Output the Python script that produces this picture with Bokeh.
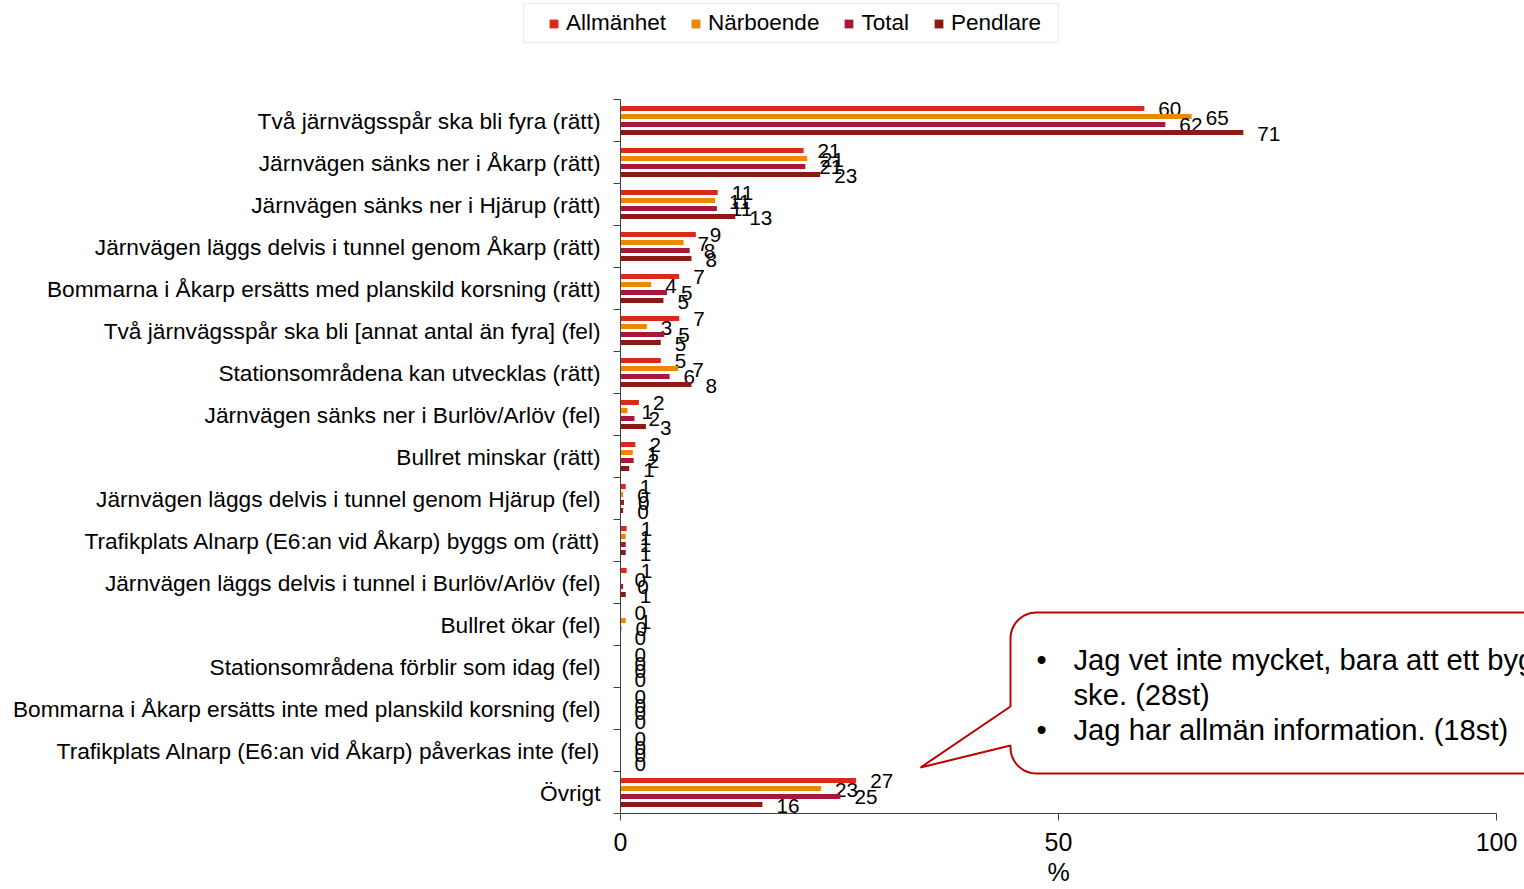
import numpy as np
from bokeh.plotting import figure
from bokeh.layouts import column
from bokeh.models import (FixedTicker, Legend, LegendItem, Range1d, BoxAnnotation, Title)
from bokeh.core.properties import value
from bokeh.embed import file_html
from bokeh.resources import INLINE

# ---------------- data ----------------
categories = [
    "Två järnvägsspår ska bli fyra (rätt)",
    "Järnvägen sänks ner i Åkarp (rätt)",
    "Järnvägen sänks ner i Hjärup (rätt)",
    "Järnvägen läggs delvis i tunnel genom Åkarp (rätt)",
    "Bommarna i Åkarp ersätts med planskild korsning (rätt)",
    "Två järnvägsspår ska bli [annat antal än fyra] (fel)",
    "Stationsområdena kan utvecklas (rätt)",
    "Järnvägen sänks ner i Burlöv/Arlöv (fel)",
    "Bullret minskar (rätt)",
    "Järnvägen läggs delvis i tunnel genom Hjärup (fel)",
    "Trafikplats Alnarp (E6:an vid Åkarp) byggs om (rätt)",
    "Järnvägen läggs delvis i tunnel i Burlöv/Arlöv (fel)",
    "Bullret ökar (fel)",
    "Stationsområdena förblir som idag (fel)",
    "Bommarna i Åkarp ersätts inte med planskild korsning (fel)",
    "Trafikplats Alnarp (E6:an vid Åkarp) påverkas inte (fel)",
    "Övrigt",
]
series_names = ["Allmänhet", "Närboende", "Total", "Pendlare"]
allmanhet = [59.8, 20.9, 11.1, 8.6, 6.7, 6.7, 4.6, 2.1, 1.7, 0.6, 0.7, 0.7, 0.0, 0.0, 0.0, 0.0, 26.9]
narboende = [65.2, 21.3, 10.8, 7.2, 3.5, 3.0, 6.6, 0.8, 1.4, 0.3, 0.6, 0.0, 0.6, 0.0, 0.0, 0.0, 22.9]
total     = [62.2, 21.1, 11.0, 7.9, 5.3, 5.0, 5.6, 1.6, 1.5, 0.4, 0.6, 0.3, 0.1, 0.0, 0.0, 0.0, 25.1]
pendlare  = [71.1, 22.8, 13.1, 8.1, 4.9, 4.6, 8.1, 2.9, 1.0, 0.3, 0.6, 0.6, 0.0, 0.0, 0.0, 0.0, 16.2]
x_ticks = [0, 50, 100]
x_title = "%"
callout_lines = [
    ("•", "Jag vet inte mycket, bara att ett bygge ska"),
    ("", "ske. (28st)"),
    ("•", "Jag har allmän information. (18st)"),
]

colors = ["#D9291C", "#EE8700", "#A8183A", "#8C1A12"]

# ---------------- layout ----------------
FONT = "Liberation Sans"
W = 1524
LEG_H = 45
H = 889 - LEG_H
LEFT, RIGHT, TOP, BOTTOM = 620, 0, 99 - LEG_H, 76
frame_w = W - LEFT - RIGHT
frame_h = H - TOP - BOTTOM
n = len(categories)
ppu = 876 / 100.0            # px per x unit
x_end = frame_w / ppu
ppy = frame_h / n            # px per category row

def px_to_x(page_x):
    return (page_x - LEFT) / ppu

def py_to_y(page_y):
    return (n - 0.5) - (page_y - 99) / ppy

# ---------------- legend strip ----------------
lg = figure(width=W, height=LEG_H, x_range=Range1d(0, W), y_range=Range1d(0, LEG_H),
            x_axis_location=None, y_axis_location=None,
            output_backend="svg", toolbar_location=None,
            min_border_left=0, min_border_right=0, min_border_top=0, min_border_bottom=0)
lg.frame_align = False
lg.xgrid.visible = False
lg.ygrid.visible = False
lg.outline_line_color = None
lg_items = []
for name, col in zip(series_names, colors):
    r = lg.hbar(y=[-100], left=[0], right=[1], height=1, fill_color=col, line_color=None)
    lg_items.append(LegendItem(label=name, renderers=[r]))
lg.add_layout(BoxAnnotation(left=523, right=1058, top=LEG_H - 3, bottom=LEG_H - 42,
                            fill_alpha=0, line_color="#C8C8C8", line_width=1.5))
legend = Legend(items=lg_items, orientation="horizontal", location=(548, 9),
                label_text_font=FONT, label_text_font_size="22.5px", label_text_color="black",
                glyph_width=11, glyph_height=11, label_standoff=7, spacing=24,
                padding=3, margin=0, border_line_color=None, background_fill_alpha=0)
lg.add_layout(legend)

# ---------------- main chart ----------------
p = figure(width=W, height=H, x_range=Range1d(0, x_end), y_range=Range1d(-0.5, n - 0.5),
           output_backend="svg", toolbar_location=None,
           min_border_left=LEFT, min_border_right=RIGHT,
           min_border_top=TOP, min_border_bottom=BOTTOM)
p.frame_align = False
p.xgrid.visible = False
p.ygrid.visible = False
p.outline_line_color = None
p.background_fill_color = "white"
p.border_fill_color = "white"

AX = "#404040"
yax = p.yaxis[0]
yax.ticker = FixedTicker(ticks=list(range(n)), minor_ticks=[i - 0.5 for i in range(n + 1)])
yax.major_label_overrides = {n - 1 - i: c for i, c in enumerate(categories)}
yax.major_label_text_font = FONT
yax.major_label_text_font_size = "22.7px"
yax.major_label_text_color = "black"
yax.major_tick_out = 0
yax.major_tick_in = 0
yax.minor_tick_out = 7
yax.minor_tick_in = 0
yax.minor_tick_line_color = AX
yax.axis_line_color = AX
yax.major_label_standoff = 13

xax = p.xaxis[0]
xax.ticker = FixedTicker(ticks=x_ticks)
xax.bounds = (0, 100)
xax.major_label_text_font = FONT
xax.major_label_text_font_size = "25px"
xax.major_label_text_color = "black"
xax.major_tick_out = 7
xax.major_tick_in = 0
xax.minor_tick_out = 0
xax.minor_tick_in = 0
xax.major_tick_line_color = AX
xax.axis_line_color = AX
xax.major_label_standoff = 12

# axis title "%" centred under the 50 tick
pct_w = 0.889 * 25
p.add_layout(Title(text=x_title, align="left", offset=50 * ppu - pct_w / 2,
                   text_font=FONT, text_font_size="25px", text_font_style="normal",
                   text_color="black", standoff=4), "below")

ys = np.array([n - 1 - i for i in range(n)], dtype=float)
offsets = [0.286, 0.095, -0.095, -0.286]
for name, vals, col, off in zip(series_names, [allmanhet, narboende, total, pendlare], colors, offsets):
    p.hbar(y=ys + off, left=0, right=vals, height=0.115, fill_color=col, line_color=None)
    labels = [str(int(np.floor(v + 0.5))) for v in vals]
    p.text(x=vals, y=ys + off, text=labels, x_offset=14, y_offset=1,
           text_font=value(FONT), text_font_size="20.7px", text_color="black",
           text_align="left", text_baseline="middle")

# ---------------- callout ----------------
L, T, B, R, rad = 1010, 612, 773, 1640, 26
def arc(cx, cy, a0, a1):
    t = np.radians(np.linspace(a0, a1, 16))
    return list(cx + rad * np.cos(t)), list(cy + rad * np.sin(t))
pxs, pys = [], []
for (cx, cy, a0, a1) in [(L + rad, T + rad, 180, 270), (R - rad, T + rad, 270, 360),
                         (R - rad, B - rad, 0, 90), (L + rad, B - rad, 90, 180)]:
    ax_, ay_ = arc(cx, cy, a0, a1)
    pxs += ax_; pys += ay_
pxs += [L, 920, L]
pys += [745, 767, 706]
p.patch([px_to_x(v) for v in pxs], [py_to_y(v) for v in pys],
        fill_color="white", line_color="#C00000", line_width=2)

line_y = [659, 694, 729]
for (bul, txt), ly in zip(callout_lines, line_y):
    if bul:
        p.text(x=[px_to_x(1036)], y=[py_to_y(ly)], text=[bul], text_font=value(FONT),
               text_font_size="29px", text_color="black", text_align="left", text_baseline="middle")
    p.text(x=[px_to_x(1073)], y=[py_to_y(ly)], text=[txt], text_font=value(FONT),
           text_font_size="29.2px", text_color="black", text_align="left", text_baseline="middle")

layout = column(lg, p, spacing=0)
open("out.html", "w").write(file_html(layout, INLINE))
